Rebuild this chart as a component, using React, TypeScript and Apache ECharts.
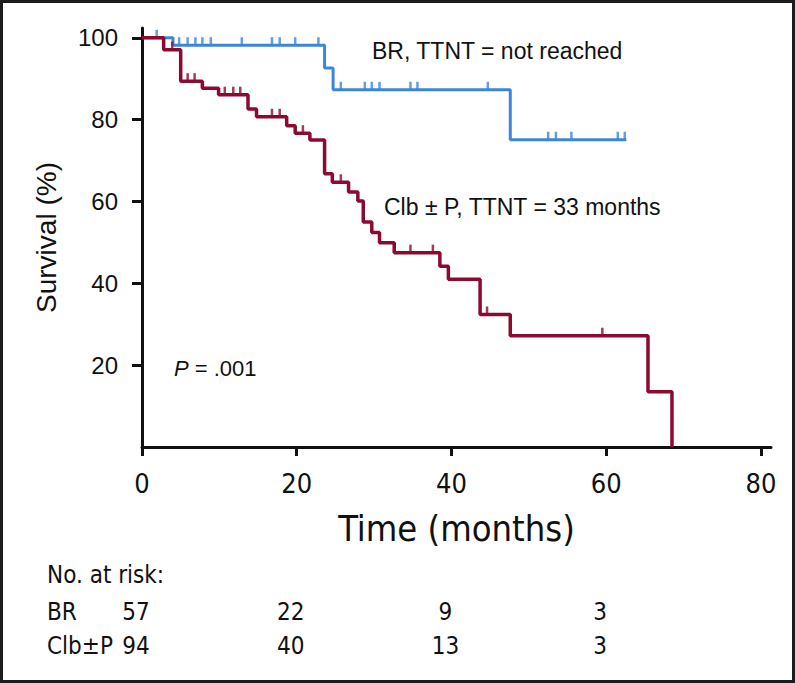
import React, { useEffect, useRef } from "react";
import * as echarts from "echarts";

const xTicks = [0, 20, 40, 60, 80];
const yTicks = [20, 40, 60, 80, 100];

const brTimes = [0, 4.0, 23.6, 24.7, 47.6, 62.6];
const brSurv = [100, 98.2, 92.6, 87.3, 75.1, 75.1];
const brCensor = [1.9, 4.8, 5.9, 6.9, 7.8, 8.9, 12.9, 16.8, 17.8, 19.8, 22.8, 25.7, 28.8, 29.7, 30.7, 34.7, 35.6, 44.7, 52.5, 53.5, 55.5, 61.5, 62.4];

const clbTimes = [0, 2.8, 5.0, 7.8, 9.9, 13.7, 14.8, 18.7, 19.8, 21.7, 23.6, 24.6, 26.7, 27.9, 28.6, 29.7, 30.7, 32.6, 38.5, 39.6, 43.7, 47.6, 65.4, 68.5];
const clbSurv = [100, 97.1, 89.4, 87.7, 86.1, 82.6, 80.7, 78.5, 76.7, 75.0, 66.8, 64.7, 62.3, 60.1, 55.0, 52.4, 49.9, 47.5, 44.2, 41.0, 32.4, 27.2, 13.5, 0];
const clbCensor = [3.9, 5.9, 6.8, 10.7, 11.8, 12.7, 16.8, 17.8, 20.8, 25.7, 34.7, 37.6, 44.6, 59.5];

const riskTitle = "No. at risk:";
const riskGroups = ["BR", "Clb±P"];
const riskTimes = [0, 20, 40, 60];
const riskBR = [57, 22, 9, 3];
const riskClb = [94, 40, 13, 3];

const brLabel = "BR, TTNT = not reached";
const clbLabel = "Clb ± P, TTNT = 33 months";

const BLUE = "#3a87da";
const RED = "#8c0a30";
const INK = "#111111";
const SANS = "'Liberation Sans', Arial, Helvetica, sans-serif";
const NARROW = "'Liberation Sans Narrow', 'Arial Narrow', 'DejaVu Sans Condensed', sans-serif";

function survAt(times: number[], surv: number[], t: number) {
  let s = surv[0];
  for (let i = 0; i < times.length; i++) if (times[i] <= t) s = surv[i];
  return s;
}

export default function App() {
  const ref = useRef<HTMLDivElement>(null);
  useEffect(() => {
    if (!ref.current) return;
    const chart = echarts.init(ref.current, undefined, { renderer: "svg" });
    const stepData = (t: number[], s: number[]) => t.map((v, i) => [v, s[i]]);
    const censorData = (c: number[], t: number[], s: number[]) => c.map((v) => [v, survAt(t, s, v)]);
    const censorSeries = (name: string, data: number[][], color: string) => ({
      name,
      type: "scatter",
      data,
      symbol: "rect",
      symbolSize: [2.5, 8],
      symbolOffset: [0, -4],
      itemStyle: { color },
      z: 3,
    });
    chart.setOption({
      animation: false,
      backgroundColor: "#ffffff",
      grid: { left: 142, right: 24, top: 28, bottom: 236, containLabel: false },
      xAxis: {
        type: "value",
        min: 0,
        max: 81.3,
        interval: 20,
        name: "Time (months)",
        nameLocation: "middle",
        nameGap: 63,
        nameTextStyle: { fontFamily: NARROW, fontSize: 36, color: INK },
        axisLine: { lineStyle: { color: INK, width: 3 } },
        axisTick: { customValues: xTicks, length: 9, lineStyle: { color: INK, width: 3 } },
        axisLabel: { customValues: xTicks, margin: 23, fontFamily: NARROW, fontSize: 27, color: INK },
        splitLine: { show: false },
      },
      yAxis: {
        type: "value",
        min: 0,
        max: 102.4,
        interval: 20,
        name: "Survival (%)",
        nameLocation: "middle",
        nameGap: 82,
        nameTextStyle: { fontFamily: SANS, fontSize: 28, color: INK },
        axisLine: { lineStyle: { color: INK, width: 3 } },
        axisTick: { customValues: yTicks, length: 10, lineStyle: { color: INK, width: 3 } },
        axisLabel: { customValues: yTicks, margin: 24, fontFamily: SANS, fontSize: 24, color: INK },
        splitLine: { show: false },
      },
      series: [
        {
          name: "BR",
          type: "line",
          step: "end",
          data: stepData(brTimes, brSurv),
          symbol: "none",
          lineStyle: { color: BLUE, width: 3 },
          z: 2,
        },
        censorSeries("BR censored", censorData(brCensor, brTimes, brSurv), BLUE),
        {
          name: "Clb±P",
          type: "line",
          step: "end",
          data: stepData(clbTimes, clbSurv),
          symbol: "none",
          lineStyle: { color: RED, width: 3.5 },
          z: 4,
        },
        censorSeries("Clb±P censored", censorData(clbCensor, clbTimes, clbSurv), RED),
      ],
    });

    const xp = (t: number) => chart.convertToPixel({ xAxisIndex: 0 }, t) as number;
    const rowY = [612, 646];
    const riskRows = [riskBR, riskClb];
    const graphics: any[] = [
      {
        type: "rect",
        shape: { x: 1.5, y: 1.5, width: 792, height: 680 },
        style: { fill: "none", stroke: "#1c1c1c", lineWidth: 3 },
        silent: true,
      },
      {
        type: "text",
        style: { text: brLabel, x: 372, y: 51, textAlign: "left", textVerticalAlign: "middle", font: `23px ${SANS}`, fill: INK },
      },
      {
        type: "text",
        style: { text: clbLabel, x: 384, y: 207, textAlign: "left", textVerticalAlign: "middle", font: `23px ${SANS}`, fill: INK },
      },
      {
        type: "text",
        style: {
          text: "{i|P} = .001",
          x: 174,
          y: 368,
          textAlign: "left",
          textVerticalAlign: "middle",
          font: `22px ${SANS}`,
          fill: INK,
          rich: { i: { fontStyle: "italic", fontSize: 22, fontFamily: SANS, fill: INK, color: INK } },
        },
      },
      {
        type: "text",
        style: { text: riskTitle, x: 47, y: 575, textAlign: "left", textVerticalAlign: "middle", font: `24px ${NARROW}`, fill: INK },
      },
    ];
    riskGroups.forEach((g, r) => {
      graphics.push({
        type: "text",
        style: { text: g, x: 47, y: rowY[r], textAlign: "left", textVerticalAlign: "middle", font: `24px ${NARROW}`, fill: INK },
      });
      riskRows[r].forEach((n, i) => {
        graphics.push({
          type: "text",
          style: {
            text: String(n),
            x: xp(riskTimes[i]) - 6,
            y: rowY[r],
            textAlign: "center",
            textVerticalAlign: "middle",
            font: `24px ${NARROW}`,
            fill: INK,
          },
        });
      });
    });
    chart.setOption({ graphic: graphics });
    return () => chart.dispose();
  }, []);
  return <div ref={ref} style={{ position: "absolute", left: 0, top: 0, width: 795, height: 683 }} />;
}
